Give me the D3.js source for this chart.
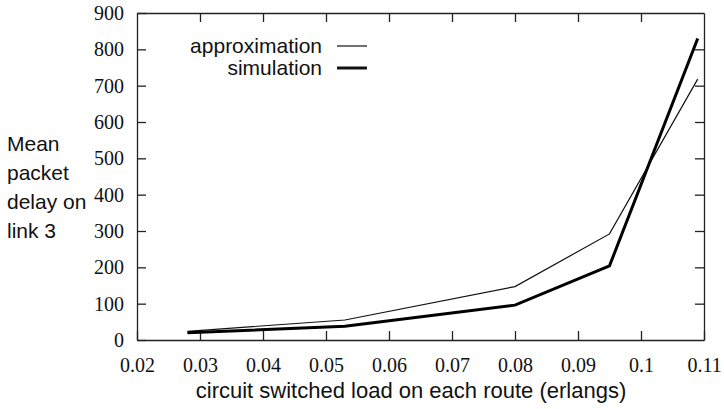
<!DOCTYPE html>
<html>
<head>
  <script src="https://d3js.org/d3.v7.min.js"></script>
  <style>
    body { margin: 0; background: #fff; }
  </style>
</head>
<body>
<script>
  // data
  var loads = [0.028, 0.053, 0.08, 0.095, 0.109];
  var approximation = [24, 55, 147, 292, 718];
  var simulation = [20, 38, 96, 204, 830];
  var xTicks = [0.02, 0.03, 0.04, 0.05, 0.06, 0.07, 0.08, 0.09, 0.1, 0.11];
  var yTicks = [0, 100, 200, 300, 400, 500, 600, 700, 800, 900];
  var yLabelLines = ["Mean", "packet", "delay on", "link 3"];

  var margin = {top: 13, right: 20, bottom: 69, left: 137};
  var W = 724, H = 409;
  var width = W - margin.left - margin.right;
  var height = H - margin.top - margin.bottom;
  var serif = "'Liberation Serif', 'Times New Roman', serif";
  var sans = "'Liberation Sans', Arial, Helvetica, sans-serif";

  var svg = d3.select("body").append("svg")
    .attr("width", W).attr("height", H);
  var g = svg.append("g")
    .attr("transform", "translate(" + margin.left + "," + margin.top + ")");

  var x = d3.scaleLinear().domain([0.02, 0.11]).range([0, width]);
  var y = d3.scaleLinear().domain([0, 900]).range([height, 0]);

  function fmtX(d) { return d === 0.1 ? "0.1" : d3.format(".2f")(d); }

  // bottom + left axes with inward ticks
  g.append("g").attr("transform", "translate(0," + height + ")")
    .call(d3.axisBottom(x).tickValues(xTicks).tickFormat(fmtX).tickSizeInner(-9).tickSizeOuter(0).tickPadding(18));
  g.append("g")
    .call(d3.axisLeft(y).tickValues(yTicks).tickSizeInner(-9).tickSizeOuter(0).tickPadding(13));
  // mirrored top + right ticks
  g.append("g")
    .call(d3.axisTop(x).tickValues(xTicks.slice(1, -1)).tickFormat("").tickSizeInner(-9).tickSizeOuter(0));
  g.append("g").attr("transform", "translate(" + width + ",0)")
    .call(d3.axisRight(y).tickValues(yTicks.slice(1, -1)).tickFormat("").tickSizeInner(-9).tickSizeOuter(0));

  g.selectAll(".domain").attr("stroke", "#222").attr("stroke-width", 1.3);
  g.selectAll(".tick line").attr("stroke", "#222").attr("stroke-width", 1.3);
  g.selectAll(".tick text")
    .style("font-family", serif).style("font-size", "20px").style("fill", "#111");

  var line = d3.line()
    .x(function(d) { return x(d[0]); })
    .y(function(d) { return y(d[1]); });

  g.append("path")
    .datum(loads.map(function(l, i) { return [l, approximation[i]]; }))
    .attr("fill", "none").attr("stroke", "#111").attr("stroke-width", 1.2)
    .attr("d", line);
  g.append("path")
    .datum(loads.map(function(l, i) { return [l, simulation[i]]; }))
    .attr("fill", "none").attr("stroke", "#000").attr("stroke-width", 3)
    .attr("d", line);

  function label(sel, size) {
    return sel.style("font-family", sans).style("font-size", (size || 21) + "px").style("fill", "#111");
  }

  // legend
  var legend = [["approximation", 1.2], ["simulation", 3]];
  legend.forEach(function(d, i) {
    var ly = 46 + i * 22;
    label(svg.append("text"))
      .attr("x", 322).attr("y", ly + 7).attr("text-anchor", "end").text(d[0]);
    svg.append("line")
      .attr("x1", 337).attr("x2", 367).attr("y1", ly).attr("y2", ly)
      .attr("stroke", "#111").attr("stroke-width", d[1]);
  });

  // axis titles
  label(svg.append("text"), 22)
    .attr("x", 411).attr("y", 398).attr("text-anchor", "middle")
    .text("circuit switched load on each route (erlangs)");
  yLabelLines.forEach(function(t, i) {
    label(svg.append("text"))
      .attr("x", 7).attr("y", 151 + i * 29).text(t);
  });
</script>
</body>
</html>
